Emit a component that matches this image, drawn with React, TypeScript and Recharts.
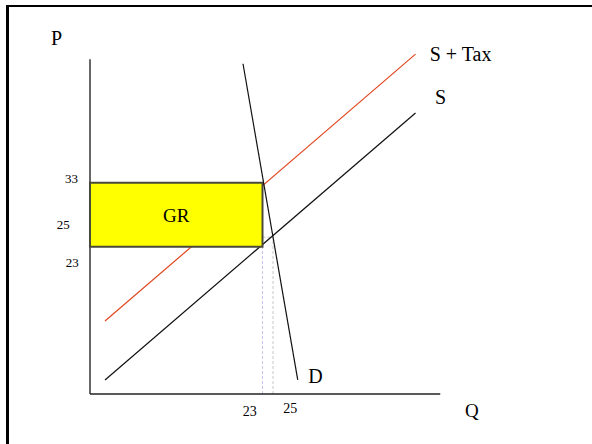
import React from 'react';
import {
  LineChart,
  Line,
  XAxis,
  YAxis,
  ReferenceArea,
  ReferenceLine,
  ReferenceDot,
} from 'recharts';

// curves of the tax diagram (Q, P)
const supply = [
  { q: 2, p: 2.2 },
  { q: 43.4, p: 43.9 },
];
const supplyTax = [
  { q: 2, p: 11.4 },
  { q: 43.4, p: 53.1 },
];
const demand = [
  { q: 20.4, p: 51.6 },
  { q: 27.7, p: 2.2 },
];

// government revenue box
const revenueQ = [0, 23];
const revenueP = [23, 33];

// equilibrium without the tax
const equilibrium = { q: 24.4, p: 24.5 };

// axis extents
const axisQMax = 46.7;
const axisPMax = 52.3;

// hand placed labels on the axes
const priceTicks = [
  { label: '33', q: -1.6, p: 33 },
  { label: '25', q: -2.7, p: 25.8 },
  { label: '23', q: -1.5, p: 19.8 },
];
const quantityTicks = [
  { label: '23', q: 21.3, p: -3.4 },
  { label: '25', q: 26.7, p: -3.0 },
];
const curveLabels = [
  { label: 'P', q: -5.2, p: 54.5 },
  { label: 'Q', q: 50, p: -3.6 },
  { label: 'S + Tax', q: 45.3, p: 52.0 },
  { label: 'S', q: 46, p: 45.3 },
  { label: 'D', q: 29.1, p: 1.7 },
];

const font = '"Liberation Serif", "Times New Roman", serif';
const margin = { top: 10, right: 7, left: 15, bottom: 18 };
const qDomain = [-10, 66];
const pDomain = [-5, 60];

const textShape =
  (label: string, size: number, anchor: 'start' | 'middle' | 'end') =>
  (props: any) =>
    (
      <text
        x={props.cx}
        y={props.cy}
        textAnchor={anchor}
        fontSize={size}
        fontFamily={font}
        fill="#000"
      >
        {label}
      </text>
    );

const layer: React.CSSProperties = { position: 'absolute', left: 0, top: 0 };

export default function App() {
  return (
    <div
      style={{
        position: 'absolute',
        left: 0,
        top: 0,
        width: 592,
        height: 444,
        overflow: 'hidden',
        background: '#fff',
      }}
    >
      <div
        style={{
          position: 'absolute',
          left: 6,
          top: 5,
          width: 700,
          height: 600,
          borderTop: '2px solid #000',
          borderLeft: '3px solid #000',
        }}
      />

      {/* curves and axes */}
      <div style={layer}>
        <LineChart width={592} height={444} margin={margin}>
          <XAxis type="number" dataKey="q" domain={qDomain} hide allowDataOverflow />
          <YAxis type="number" dataKey="p" domain={pDomain} hide allowDataOverflow />

          <ReferenceLine
            segment={[
              { x: revenueQ[1], y: 0 },
              { x: revenueQ[1], y: revenueP[0] },
            ]}
            stroke="#c4c4ec"
            strokeDasharray="3 2"
          />
          <ReferenceLine
            segment={[
              { x: equilibrium.q, y: 0 },
              { x: equilibrium.q, y: equilibrium.p },
            ]}
            stroke="#c8c8c8"
            strokeDasharray="3 2"
          />
          <ReferenceLine
            segment={[
              { x: revenueQ[1], y: equilibrium.p },
              { x: equilibrium.q, y: equilibrium.p },
            ]}
            stroke="#c8c8c8"
            strokeDasharray="3 2"
          />

          <ReferenceLine
            segment={[
              { x: 0, y: 0 },
              { x: 0, y: axisPMax },
            ]}
            stroke="#000"
            strokeWidth={1.2}
          />
          <ReferenceLine
            segment={[
              { x: 0, y: 0 },
              { x: axisQMax, y: 0 },
            ]}
            stroke="#222"
            strokeWidth={1.4}
          />

          <Line
            data={supplyTax}
            dataKey="p"
            type="linear"
            stroke="#e0461e"
            strokeWidth={1.2}
            dot={false}
            activeDot={false}
            isAnimationActive={false}
          />
          <Line
            data={supply}
            dataKey="p"
            type="linear"
            stroke="#111"
            strokeWidth={1.2}
            dot={false}
            activeDot={false}
            isAnimationActive={false}
          />
        </LineChart>
      </div>

      {/* revenue box sits over the supply curves, demand and labels on top */}
      <div style={layer}>
        <LineChart width={592} height={444} margin={margin}>
          <XAxis type="number" dataKey="q" domain={qDomain} hide allowDataOverflow />
          <YAxis type="number" dataKey="p" domain={pDomain} hide allowDataOverflow />

          <ReferenceArea
            x1={revenueQ[0]}
            x2={revenueQ[1]}
            y1={revenueP[0]}
            y2={revenueP[1]}
            fill="#ffff00"
            fillOpacity={1}
            stroke="#4a4a3a"
            strokeWidth={2}
            label={{
              value: 'GR',
              position: 'center',
              fontSize: 19,
              fontFamily: font,
              fill: '#000',
            }}
          />

          <Line
            data={demand}
            dataKey="p"
            type="linear"
            stroke="#111"
            strokeWidth={1.2}
            dot={false}
            activeDot={false}
            isAnimationActive={false}
          />

          {priceTicks.map((t) => (
            <ReferenceDot
              key={'p' + t.label + t.p}
              x={t.q}
              y={t.p}
              r={0}
              shape={textShape(t.label, 13, 'end')}
            />
          ))}
          {quantityTicks.map((t) => (
            <ReferenceDot
              key={'q' + t.label}
              x={t.q}
              y={t.p}
              r={0}
              shape={textShape(t.label, 14, 'middle')}
            />
          ))}
          {curveLabels.map((t) => (
            <ReferenceDot
              key={'c' + t.label}
              x={t.q}
              y={t.p}
              r={0}
              shape={textShape(t.label, t.label === 'Q' ? 19 : 20, 'start')}
            />
          ))}
        </LineChart>
      </div>
    </div>
  );
}
